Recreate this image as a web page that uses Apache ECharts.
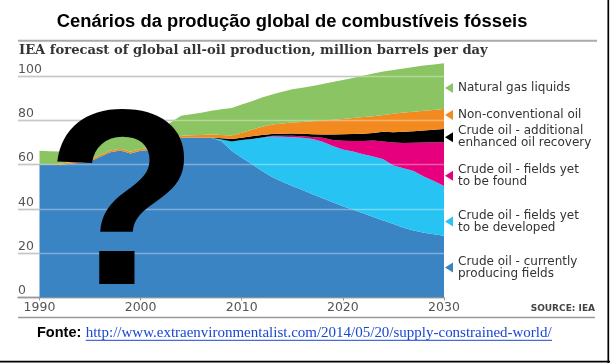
<!DOCTYPE html>
<html><head><meta charset="utf-8">
<script src="https://cdn.jsdelivr.net/npm/echarts@6/dist/echarts.min.js"></script>
<style>html,body{margin:0;padding:0;background:#fff}#c{width:610px;height:363px}</style>
</head><body><div id="c"></div>
<script>
// ---------- data ----------
const years = [1990,1991,1992,1993,1994,1995,1996,1997,1998,1999,2000,2001,2002,2003,2004,2005,2006,2007,2008,2009,2010,2011,2012,2013,2014,2015,2016,2017,2018,2019,2020,2021,2022,2023,2024,2025,2026,2027,2028,2029,2030];
const producing = [60.0,60.0,59.8,60.3,60.8,61.3,63.5,65.5,66.3,64.9,66.2,66.5,67.0,69.5,72.1,72.2,72.1,72.0,70.5,66.2,63.0,60.2,57.0,54.3,52.2,50.3,48.5,46.6,44.8,43.0,41.2,39.6,38.0,36.3,34.7,33.1,31.5,30.2,29.2,28.5,27.8];
const toBeDeveloped = [0,0,0,0,0,0,0,0,0,0,0,0,0,0,0,0,0,0,0.8,4.2,8.0,11.3,15.2,18.3,20.3,22.0,23.5,24.9,25.5,25.3,25.6,26.2,26.6,27.3,27.6,26.4,26.8,26.8,25.4,24.0,22.5];
const toBeFound = [0,0,0,0,0,0,0,0,0,0,0,0,0,0,0,0,0,0,0,0,0,0,0,0.3,0.5,0.6,0.7,0.9,1.7,2.7,3.9,4.8,6.0,7.2,8.1,10.4,11.4,12.8,15.3,17.5,19.7];
const eor = [0,0,0,0,0,0,0,0,0,0,0,0,0,0,0,0,0,0,0.5,1.1,1.0,1.2,1.1,0.8,0.9,1.1,1.2,1.2,1.5,2.5,2.9,3.1,3.3,3.4,4.4,4.6,5.0,5.2,5.4,5.6,6.0];
const nonConventional = [0,0,0.5,0.7,0.8,0.8,0.8,0.8,0.8,0.8,0.8,0.8,0.8,0.8,0.9,1.0,1.2,1.5,1.5,1.6,2.3,2.9,3.7,4.3,4.6,4.9,5.3,5.9,6.3,6.7,6.9,7.3,7.5,7.6,7.5,8.4,8.7,8.8,8.9,9.0,9.0];
const ngl = [6.2,6.0,5.6,5.8,6.4,7.4,7.2,6.7,6.9,7.8,8.0,8.2,8.7,8.7,9.0,9.5,10.0,10.7,11.6,12.4,12.7,12.9,13.2,13.5,14.3,15.0,15.4,15.9,16.5,17.0,17.6,18.0,18.6,19.2,19.6,19.7,19.9,20.2,20.4,20.5,20.7];

const seriesNames = ['Crude oil - currently producing fields','Crude oil - fields yet to be developed','Crude oil - fields yet to be found','Crude oil - additional enhanced oil recovery','Non-conventional oil','Natural gas liquids'];
const legendLabels = ['Crude oil - currently\nproducing fields','Crude oil - fields yet\nto be developed','Crude oil - fields yet\nto be found','Crude oil - additional\nenhanced oil recovery','Non-conventional oil','Natural gas liquids'];
const xTicks = [1990,2000,2010,2020,2030];
const yTicks = [0,20,40,60,80,100];
const titleText = 'Cenários da produção global de combustíveis fósseis';
const subtitleText = 'IEA forecast of global all-oil production, million barrels per day';
const sourceText = 'SOURCE: IEA';
const footerLabel = 'Fonte:';
const footerUrl = 'http://www.extraenvironmentalist.com/2014/05/20/supply-constrained-world/';
const overlayMark = '?';

// ---------- styles ----------
const colors = ['#3b84c4','#27c3f2','#e6007e','#000000','#f38a1f','#8bc462'];
const seriesData = [producing,toBeDeveloped,toBeFound,eor,nonConventional,ngl];

const mctx = document.createElement('canvas').getContext('2d');
function fit(text, fam, weight, target){ mctx.font = weight + ' 100px ' + fam; return 100*target/mctx.measureText(text).width; }
const titleSize = fit(titleText, '"Liberation Sans"', 'bold', 471);
const subSize = fit(subtitleText, '"DejaVu Serif"', 'bold', 469);
const urlSize = fit(footerUrl, '"Liberation Serif"', 'normal', 466);

const chart = echarts.init(document.getElementById('c'), null, {renderer:'canvas'});

// value first, year second, so the stack is computed on the y (value) dimension
const series = seriesNames.map((n,i)=>({
  name:n, type:'line', stack:'total', symbol:'none', smooth:false,
  encode:{x:1, y:0},
  lineStyle:{width:0}, areaStyle:{color:colors[i], opacity:1},
  itemStyle:{color:colors[i]}, color:colors[i],
  data: years.map((y,k)=>[seriesData[i][k], y]),
  z:2, silent:true
}));

const legendTops = {5:82, 4:109, 3:119.3, 2:157.7, 1:203.5, 0:249.5};
const legends = seriesNames.map((n,i)=>{
  const two = legendLabels[i].indexOf('\n')>=0;
  return {
    data:[n], left:445, top:legendTops[i], orient:'vertical', padding:0,
    itemWidth:8, itemHeight:10, icon:'path://M8,0 L8,10 L0,5 Z',
    formatter:()=>legendLabels[i],
    textStyle:{fontFamily:'"DejaVu Sans"', fontSize:12, color:'#333', lineHeight:12, padding: two?[12,0,0,0]:0},
    selectedMode:false
  };
});

const option = {
  animation:false,
  backgroundColor:'#fff',
  grid:{left:18, right:166, top:53.6, bottom:65.5, containLabel:false},
  xAxis:{type:'value', min:1987.874, max:2030,
    axisLine:{show:true, lineStyle:{color:'#999', width:1.3}},
    axisTick:{show:true, customValues:xTicks, length:3, lineStyle:{color:'#999'}},
    axisLabel:{customValues:xTicks, formatter:v=>String(v), fontFamily:'"DejaVu Sans"', fontSize:12.5, color:'#555', margin:4},
    splitLine:{show:false}},
  yAxis:[
    {type:'value', min:0, max:110, interval:20,
     axisLine:{show:false}, axisTick:{show:false},
     axisLabel:{inside:true, align:'left', verticalAlign:'bottom', margin:0, showMaxLabel:false,
       fontFamily:'"DejaVu Sans"', fontSize:12.5, color:'#555'},
     splitLine:{show:true, showMaxLine:false, lineStyle:{color:'#aaa', width:1.3}}},
    {type:'value', min:0, max:110, interval:20, z:5, position:'left',
     axisLine:{show:false}, axisTick:{show:false}, axisLabel:{show:false},
     splitLine:{show:true, showMaxLine:false, showMinLine:false, lineStyle:{color:'rgba(255,255,255,0.35)', width:1.3}}}
  ],
  legend:legends,
  series:series,
  graphic:[
    {type:'text', z:20, style:{text:titleText, x:56.7, y:22.3, font:'bold '+titleSize.toFixed(2)+'px "Liberation Sans"', fill:'#000', textAlign:'left', align:'left', textVerticalAlign:'middle', verticalAlign:'middle'}},
    {type:'line', z:20, shape:{x1:18, y1:40.7, x2:597, y2:40.7}, style:{stroke:'#aaa', lineWidth:2}},
    {type:'text', z:20, style:{text:subtitleText, x:19, y:50.5, font:'bold '+subSize.toFixed(2)+'px "DejaVu Serif"', fill:'#333', textAlign:'left', align:'left', textVerticalAlign:'middle', verticalAlign:'middle'}},
    {type:'text', z:20, style:{text:overlayMark, x:122, y:215.3, font:'bold 250px "Liberation Sans"', fill:'#000', textAlign:'center', align:'center', textVerticalAlign:'middle', verticalAlign:'middle'}},
    {type:'text', z:20, style:{text:sourceText, x:595, y:309, font:'bold 9px "DejaVu Sans"', fill:'#444', textAlign:'right', align:'right', textVerticalAlign:'middle', verticalAlign:'middle'}},
    {type:'line', z:20, shape:{x1:18, y1:317.5, x2:595, y2:317.5}, style:{stroke:'#999', lineWidth:1.5}},
    {type:'text', z:20, style:{text:footerLabel, x:37, y:333.3, font:'bold 14.5px "Liberation Sans"', fill:'#000', textAlign:'left', align:'left', textVerticalAlign:'middle', verticalAlign:'middle'}},
    {type:'text', z:20, style:{text:footerUrl, x:85.7, y:333.2, font:urlSize.toFixed(2)+'px "Liberation Serif"', fill:'#1a47d0', textAlign:'left', align:'left', textVerticalAlign:'middle', verticalAlign:'middle'}},
    {type:'line', z:20, shape:{x1:85.7, y1:340.3, x2:552, y2:340.3}, style:{stroke:'#1a47d0', lineWidth:1}},
    {type:'line', z:20, shape:{x1:608.3, y1:0, x2:608.3, y2:363}, style:{stroke:'#000', lineWidth:1.7}},
    {type:'line', z:20, shape:{x1:0, y1:361.7, x2:610, y2:361.7}, style:{stroke:'#000', lineWidth:1.7}}
  ]
};
chart.setOption(option);
</script>
</body></html>
